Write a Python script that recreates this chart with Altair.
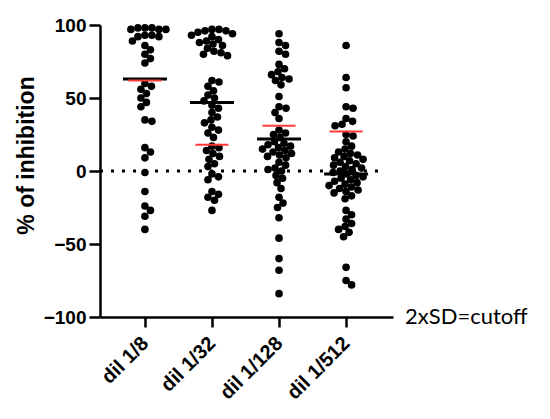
import json
import altair as alt
import pandas as pd

# ---------------- data ----------------
categories = ["dil 1/8", "dil 1/32", "dil 1/128", "dil 1/512"]

dil_8 = [98, 98, 98, 97, 97, 97, 93, 93, 92, 92,
         89, 86, 83, 80, 77, 74,
         60, 58, 56, 53, 50, 47, 44, 35, 34, 16, 13, 9, -1, -14, -24, -27, -31, -40]
dil_32 = [97, 97, 96, 96, 95, 94, 93, 92, 90, 89, 88, 87, 86, 84, 82, 81, 80, 79,
          62, 61, 58, 55, 52, 50, 48, 45, 43, 40, 37, 35, 33, 30, 28, 26, 23,
          17, 16, 14, 12, 10, 8, 5, 3, -2, -4, -6, -14, -16, -18, -20, -27]
dil_128 = [94, 88, 86, 82, 80, 73, 70, 68, 66, 64, 63, 62, 59, 51, 44, 43, 40, 36,
           28, 26, 25, 23, 20, 19, 18, 17, 16, 15, 14, 13, 12, 11, 10, 9,
           6, 4, 2, 1, 0, -3, -5, -8, -12, -18, -22, -25, -32, -46, -60, -68, -84]
dil_512 = [86, 64, 57, 44, 43, 36, 34, 32, 31, 25, 24, 20, 17, 15, 13,
           12, 11, 10, 9, 8, 7, 6, 5, 4, 3, 2, 1, 0,
           -1, -2, -3, -4, -5, -6, -7, -8, -9, -10, -11, -12, -13, -14, -15,
           -17, -19, -27, -30, -33, -36, -38, -40, -42, -45, -66, -75, -78]
series = [dil_8, dil_32, dil_128, dil_512]

means = [63, 47, 22, -2]
cutoffs = [62, 18, 31, 27]
cutoff_label = "2xSD=cutoff"
y_title = "% of inhibition"
y_ticks = [-100, -50, 0, 50, 100]

# ---------------- layout ----------------
W, H = 293, 292
X_DOMAIN = [0.33, 4.70]
Y_DOMAIN = [-100, 100]
PX_X = W / (X_DOMAIN[1] - X_DOMAIN[0])
PX_Y = H / (Y_DOMAIN[1] - Y_DOMAIN[0])
DOT_SIZE = 58
DOT_D = 7.0  # collision distance (slight overlap allowed, like the original)


def swarm(values):
    """Beeswarm offsets (in x data units) so dots barely overlap."""
    placed = []
    out = [0.0] * len(values)
    order = sorted(range(len(values)), key=lambda i: -values[i])
    cands = [0.0]
    for s in range(1, 200):
        cands += [s * 0.5, -s * 0.5]
    for i in order:
        y = values[i] * PX_Y
        for c in cands:
            if all((c - px) ** 2 + (y - py) ** 2 >= DOT_D ** 2 for px, py in placed):
                break
        placed.append((c, y))
        out[i] = c / PX_X
    return out


rows = []
for k, vals in enumerate(series):
    offs = swarm(vals)
    for v, o in zip(vals, offs):
        rows.append({"pos": k + 1 + o, "value": v, "group": categories[k]})
pts = pd.DataFrame(rows)

summary = pd.DataFrame({
    "idx": list(range(1, len(categories) + 1)),
    "mean": means,
    "cutoff": cutoffs,
})

xs = alt.Scale(domain=X_DOMAIN, nice=False, zero=False)
ys = alt.Scale(domain=Y_DOMAIN, nice=False, zero=False)

label_expr = json.dumps(categories) + "[datum.value - 1]"

x_axis = alt.Axis(values=[1, 2, 3, 4], labelExpr=label_expr, title=None, grid=False,
                  labelAngle=-45, labelAlign="right", labelBaseline="middle",
                  labelPadding=13, tickSize=10, labelFontSize=20,
                  labelOverlap=False, labelBound=False, labelFlush=False)
y_axis = alt.Axis(values=y_ticks, title=y_title, grid=False, tickSize=11,
                  labelPadding=3, titleX=-67, titleY=130, titleAngle=-90,
                  titleAlign="center", titleBaseline="alphabetic",
                  labelOverlap=False)

zero_df = pd.DataFrame({"x": [X_DOMAIN[0]], "x2": [4.55], "y": [0]})
zero_line = alt.Chart(zero_df).mark_rule(
    color="black", strokeWidth=3, strokeDash=[3, 8]
).encode(
    x=alt.X("x:Q", scale=xs, axis=x_axis),
    x2="x2:Q",
    y=alt.Y("y:Q", scale=ys, axis=y_axis),
)

dots = alt.Chart(pts).mark_circle(size=DOT_SIZE, color="black", opacity=1).encode(
    x=alt.X("pos:Q", scale=xs, axis=x_axis),
    y=alt.Y("value:Q", scale=ys, axis=y_axis),
)

mean_ticks = alt.Chart(summary).mark_tick(
    orient="horizontal", size=44, thickness=3, color="black", opacity=1
).encode(
    x=alt.X("idx:Q", scale=xs),
    y=alt.Y("mean:Q", scale=ys),
)

cut_ticks = alt.Chart(summary).mark_tick(
    orient="horizontal", size=33, thickness=2, color="#ff3b3b", opacity=1
).encode(
    x=alt.X("idx:Q", scale=xs),
    y=alt.Y("cutoff:Q", scale=ys),
)

note = alt.Chart(pd.DataFrame({"x": [4.88], "y": [-100], "t": [cutoff_label]})).mark_text(
    align="left", baseline="middle", font="Lato", fontSize=22, color="black"
).encode(
    x=alt.X("x:Q", scale=xs),
    y=alt.Y("y:Q", scale=ys),
    text="t:N",
)

chart = alt.layer(zero_line, dots, mean_ticks, cut_ticks, note).properties(
    width=W, height=H,
    autosize=alt.AutoSizeParams(type="none"),
    padding={"left": 92, "top": 17, "right": 140, "bottom": 90},
).configure_view(stroke=None).configure_axis(
    domainColor="black", domainWidth=2.5, tickColor="black", tickWidth=2.5,
    labelFont="Liberation Sans", labelFontWeight="bold", labelFontSize=19,
    labelColor="black", titleFont="Liberation Sans", titleFontWeight="bold",
    titleFontSize=23, titleColor="black",
)

chart.save("out.html", embed_options={"renderer": "svg", "actions": False})
